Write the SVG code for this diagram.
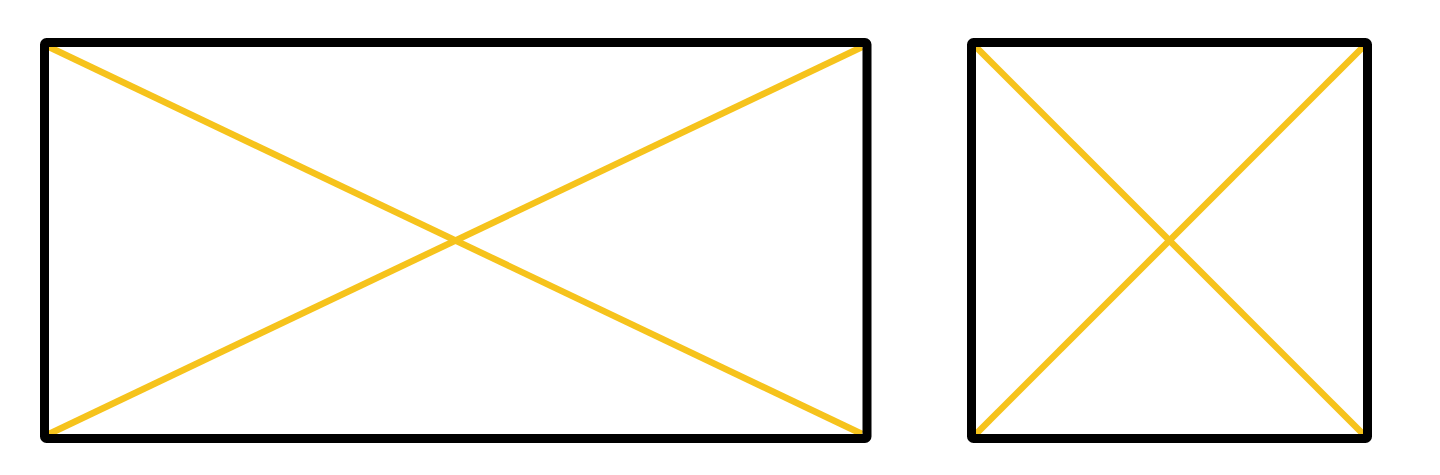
<svg xmlns="http://www.w3.org/2000/svg" width="1440" height="475" viewBox="0 0 1440 475">
<style>
.diag{stroke:#F6C31C;stroke-width:6.5;fill:none}
.frame{stroke:#000;stroke-width:9;fill:none;stroke-linejoin:round}
</style>
<rect width="1440" height="475" fill="#fff"/>
<g id="connectors">
<line class="diag" x1="49" y1="47" x2="862" y2="434"/>
<line class="diag" x1="49" y1="434" x2="862" y2="47"/>
<line class="diag" x1="976" y1="47" x2="1363" y2="434"/>
<line class="diag" x1="976" y1="434" x2="1363" y2="47"/>
</g>
<g id="rect-left">
<rect class="frame" x="44.5" y="42.5" width="822.5" height="396" rx="2"/>
</g>
<g id="rect-right">
<rect class="frame" x="971.5" y="42.5" width="396" height="396" rx="2"/>
</g>
</svg>
